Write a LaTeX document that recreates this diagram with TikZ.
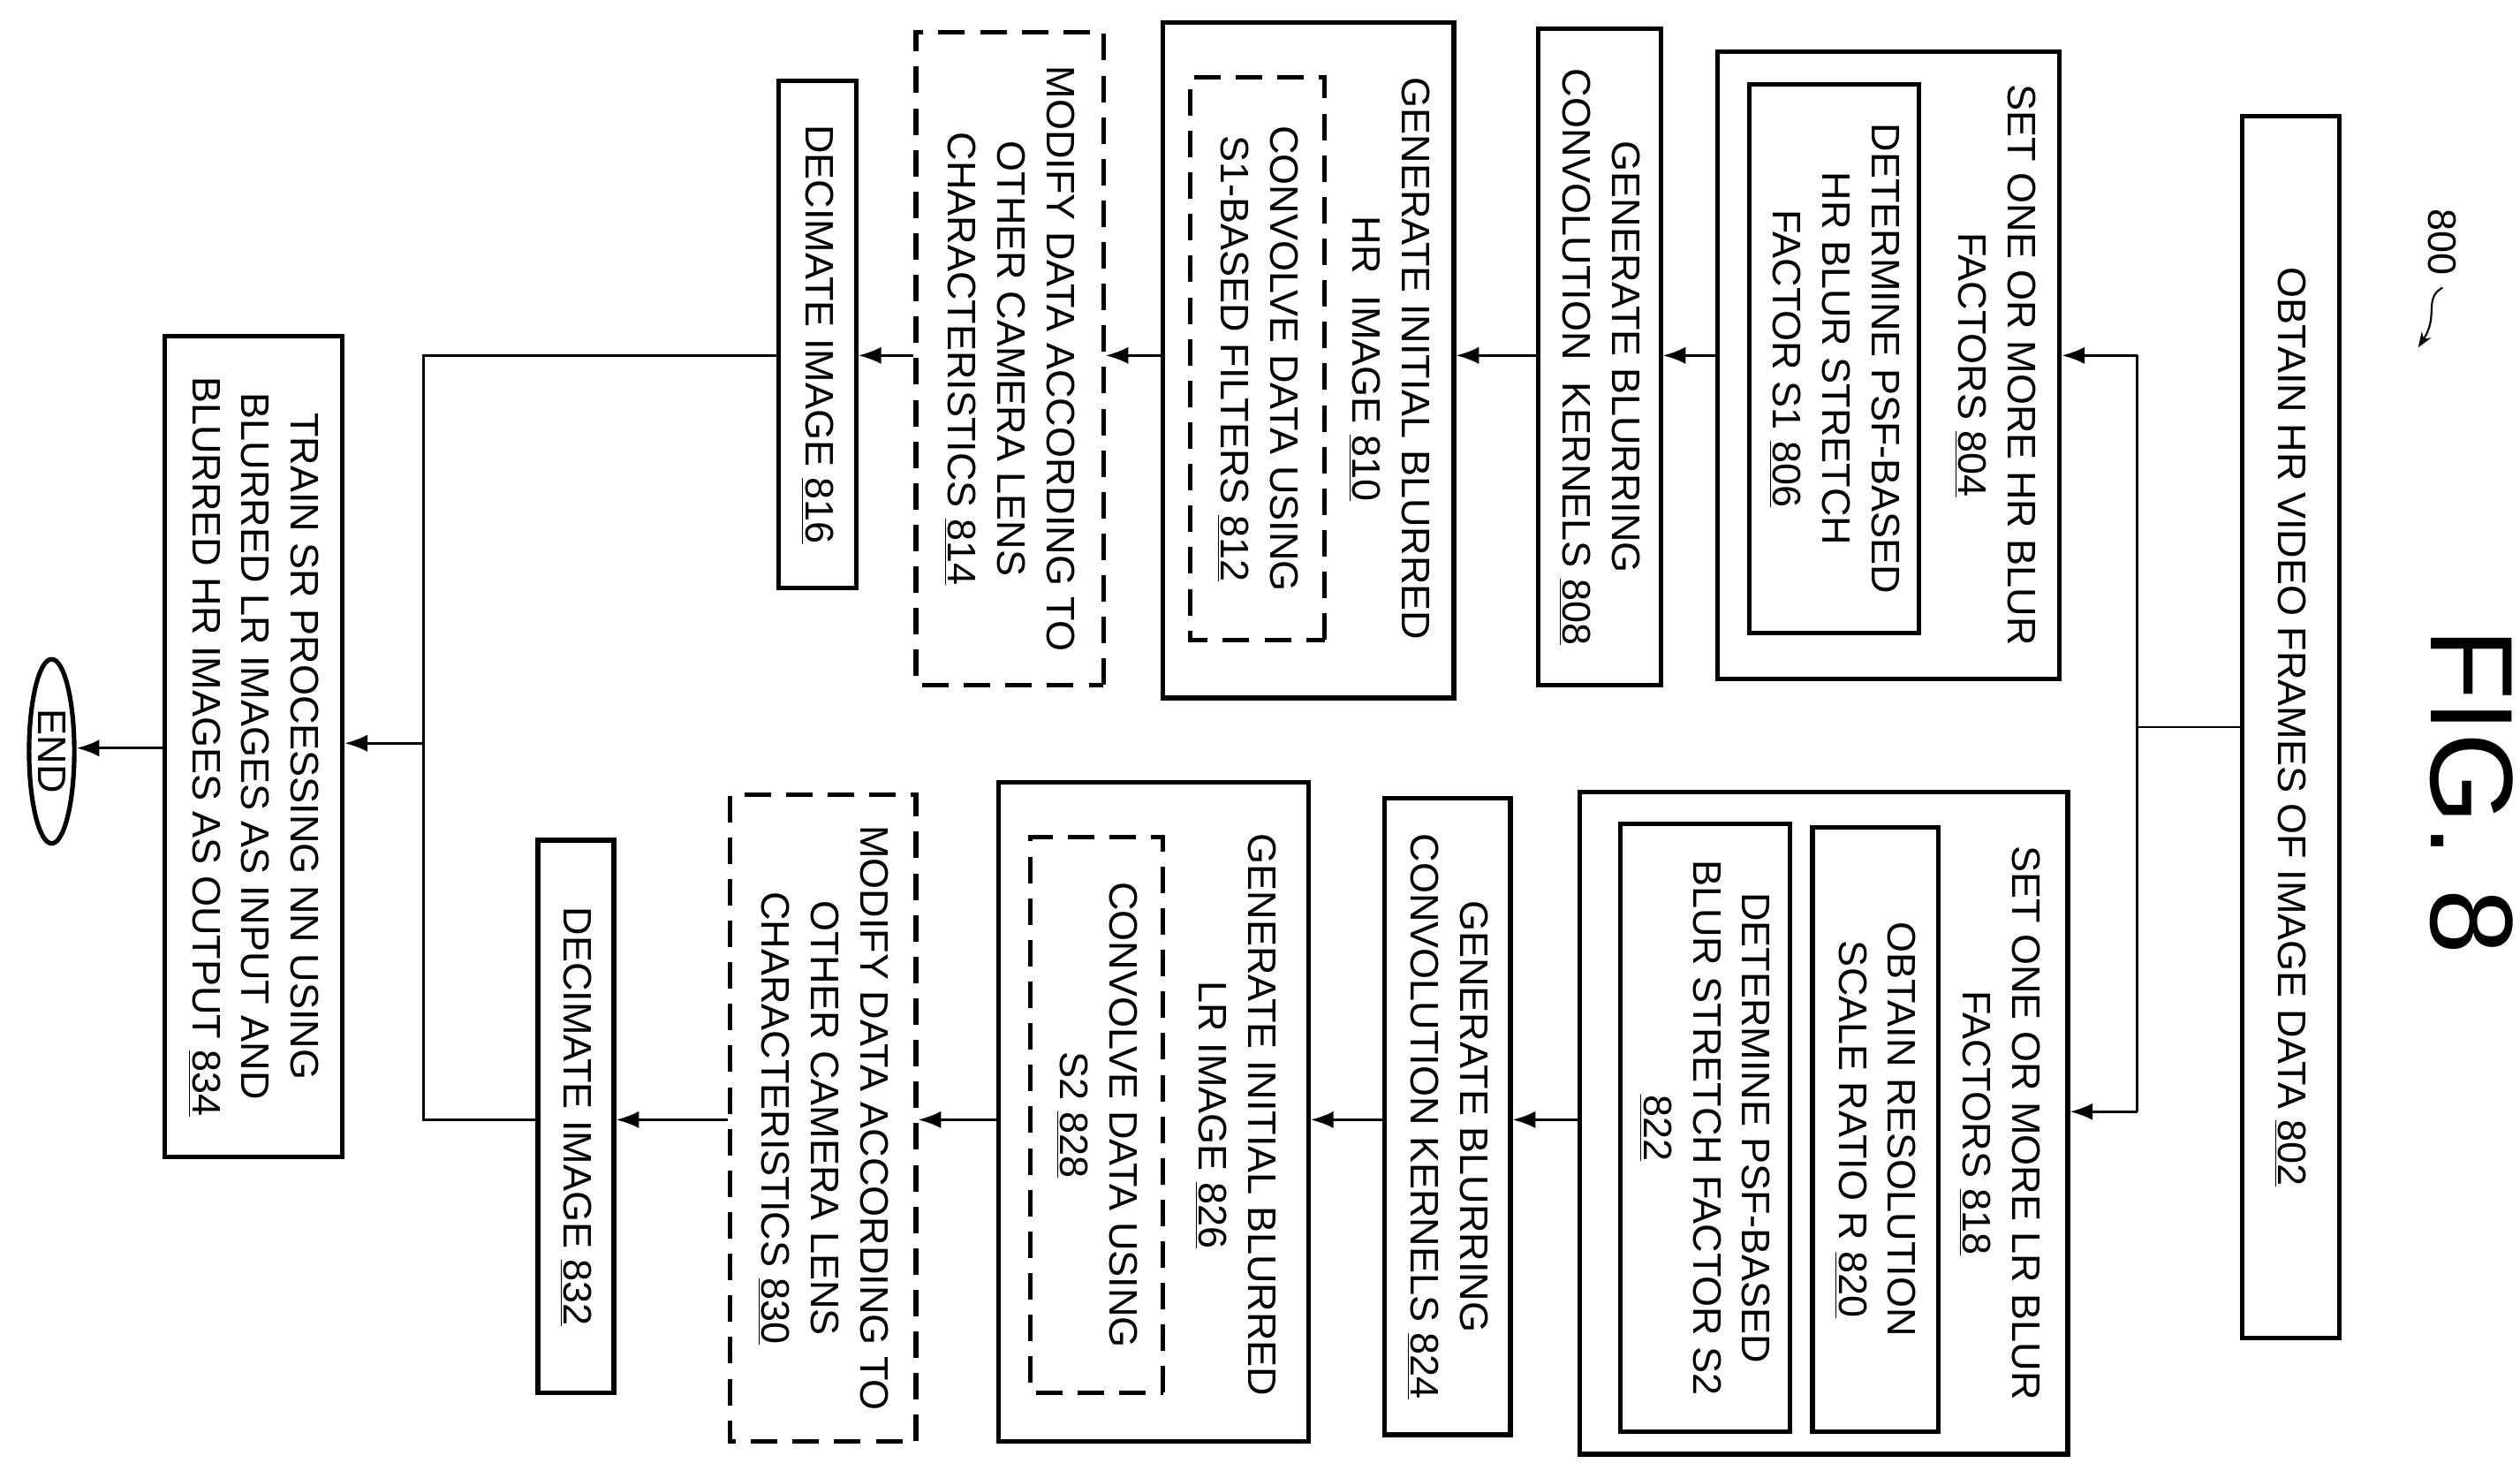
\documentclass[tikz,border=0pt]{standalone}
\usepackage{fontspec}
\setmainfont{Liberation Sans}
\usetikzlibrary{shapes.geometric,arrows.meta}
\begin{document}
\begin{tikzpicture}[x=0.3mm,y=-0.3mm,
  txt/.style={rotate=-90,align=center,font=\fontsize{21}{26}\selectfont,inner sep=0pt},
  solid box/.style={txt,draw,line width=2.4pt},
  dash box/.style={txt,draw,line width=2.4pt,dash pattern=on 14pt off 8pt},
  inner box/.style={txt,draw,line width=2.4pt},
  arr/.style={line width=1.3pt,-{Latex[length=12pt,width=9pt]}},
  ln/.style={line width=1.3pt}]
\newcommand\bx[7]{\node[#6, minimum width={(#5-#4)*0.3mm}, minimum height={(#3-#2)*0.3mm}] (#1) at ({(#2+#3)/2},{(#4+#5)/2}) {#7};}
\useasboundingbox (0,0) rectangle (1560,910);
% top
\bx{n802}{1388}{1448}{72}{828}{solid box}{OBTAIN HR VIDEO FRAMES OF IMAGE DATA \underline{802}}
\node[txt,font=\fontsize{62}{70}\selectfont] (fig) at (1530,490) {FIG. 8};
\node[txt] (l800) at (1512,150) {800};
\coordinate (t800) at (1497,215);
\draw[line width=1pt,-{Stealth[length=8pt]}] (1512,178) .. controls (1500,185) and (1510,195) .. (t800);
% HR branch
\bx{n804}{1063}{1275}{32}{420}{solid box}{}
\node[txt] (t804) at (1235,226) {SET ONE OR MORE HR BLUR\\FACTORS \underline{804}};
\bx{n806}{1083}{1188}{52}{392}{inner box}{DETERMINE PSF-BASED\\HR BLUR STRETCH\\FACTOR S1 \underline{806}}
\bx{n808}{952}{1028}{18}{424}{solid box}{GENERATE BLURRING\\CONVOLUTION\ \ KERNELS \underline{808}}
\bx{n810}{720}{900}{14}{432}{solid box}{}
\node[txt] (t810) at (860,222) {GENERATE INITIAL BLURRED\\HR\ \ IMAGE \underline{810}};
\bx{n812}{737}{820}{48}{396}{dash box}{CONVOLVE DATA USING\\S1-BASED FILTERS \underline{812}}
\bx{n814}{567}{683}{20}{424}{dash box}{MODIFY DATA ACCORDING TO\\OTHER CAMERA LENS\\CHARACTERISTICS \underline{814}}
\bx{n816}{482}{530}{50}{364}{solid box}{DECIMATE IMAGE \underline{816}}
% LR branch
\bx{n818}{978}{1280}{490}{900}{solid box}{}
\node[txt] (t818) at (1238,695) {SET ONE OR MORE LR BLUR\\FACTORS \underline{818}};
\bx{n820}{1122}{1200}{512}{886}{inner box}{OBTAIN RESOLUTION\\SCALE RATIO R \underline{820}}
\bx{n822}{1003}{1108}{510}{886}{inner box}{DETERMINE PSF-BASED\\BLUR STRETCH FACTOR S2\\\underline{822}}
\bx{n824}{857}{935}{494}{888}{solid box}{GENERATE BLURRING\\CONVOLUTION KERNELS \underline{824}}
\bx{n826}{618}{810}{484}{892}{solid box}{}
\node[txt] (t826) at (765,690) {GENERATE INITIAL BLURRED\\LR IMAGE \underline{826}};
\bx{n828}{638}{720}{518}{862}{dash box}{CONVOLVE DATA USING\\S2 \underline{828}}
\bx{n830}{452}{567}{492}{892}{dash box}{MODIFY DATA ACCORDING TO\\OTHER CAMERA LENS\\CHARACTERISTICS \underline{830}}
\bx{n832}{333}{380}{520}{862}{solid box}{DECIMATE IMAGE \underline{832}}
% end
\bx{n834}{102}{212}{208}{716}{solid box}{TRAIN SR PROCESSING NN USING\\BLURRED LR IMAGES AS INPUT AND\\BLURRED HR IMAGES AS OUTPUT \underline{834}}
\node[txt,draw,ellipse,line width=2.4pt,minimum width={114*0.3mm},minimum height={28*0.3mm}] (end) at (32,465) {END};
% connectors (rotated nodes: north = screen right, south = screen left)
\coordinate (s) at (1323,450);
\coordinate (sa) at (1323,220);
\coordinate (sb) at (1323,688);
\draw[ln] (n802.south) -- (s);
\draw[ln] (sa) -- (sb);
\draw[arr] (sa) -- (sa -| n804.north);
\draw[arr] (sb) -- (sb -| n818.north);
\draw[arr] (n804.south |- 0,220) -- (n808.north |- 0,220);
\draw[arr] (n808.south |- 0,220) -- (n810.north |- 0,220);
\draw[arr] (n810.south |- 0,220) -- (n814.north |- 0,220);
\draw[arr] (n814.south |- 0,220) -- (n816.north |- 0,220);
\draw[arr] (n818.south |- 0,693) -- (n824.north |- 0,693);
\draw[arr] (n824.south |- 0,693) -- (n826.north |- 0,693);
\draw[arr] (n826.south |- 0,693) -- (n830.north |- 0,693);
\draw[arr] (n830.south |- 0,693) -- (n832.north |- 0,693);
\coordinate (ja) at (262,220);
\coordinate (jb) at (262,693);
\coordinate (jm) at (262,460);
\draw[ln] (n816.south |- ja) -- (ja) -- (jb) -- (n832.south |- jb);
\draw[arr] (jm) -- (jm -| n834.north);
\draw[arr] (n834.south |- 0,463) -- (end.north |- 0,463);
\end{tikzpicture}
\end{document}
